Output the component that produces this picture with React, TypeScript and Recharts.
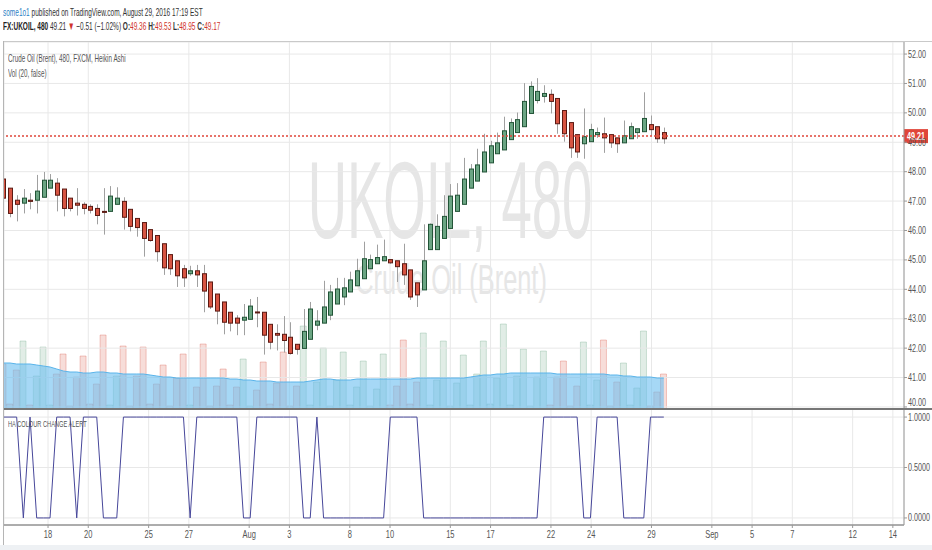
import React from "react";
import {
  ComposedChart,
  Bar,
  Area,
  Line,
  XAxis,
  YAxis,
  CartesianGrid,
  ReferenceLine,
  Cell,
} from "recharts";

// Heikin Ashi candles, 480 minute bars (3 per trading day)
const opens = [
  47.75, 47.44, 47.03, 46.93, 47.03, 47.03, 47.13, 47.44, 47.61, 47.41,
  47.1, 46.93, 46.89, 46.82, 46.75, 46.65, 46.65, 46.89, 46.99, 46.72,
  46.41, 46.27, 46.03, 45.83, 45.55, 45.18, 44.97, 44.7, 44.53, 44.63,
  44.53, 44.25, 43.84, 43.57, 43.22, 43.02, 42.95, 42.98, 43.23, 43.22,
  42.81, 42.5, 42.47, 42.37, 42.13, 41.99, 42.3, 42.78, 42.85, 43.12,
  43.5, 43.74, 43.91, 44.12, 44.36, 44.7, 44.87, 44.97, 45.01, 44.97,
  44.87, 44.66, 44.22, 43.98, 45.35, 45.35, 45.73, 46.07, 46.65, 46.89,
  47.44, 47.68, 47.99, 48.3, 48.61, 48.74, 49.09, 49.33, 49.53, 49.98,
  50.42, 50.56, 50.63, 50.49, 50.08, 49.67, 49.26, 48.95, 49.02, 49.26,
  49.29, 49.26, 49.15, 48.98, 49.12, 49.33, 49.36, 49.6, 49.53, 49.33,
];
const highs = [
  47.82, 47.44, 47.2, 47.41, 47.27, 47.89, 47.99, 47.92, 47.78, 47.41,
  47.1, 47.44, 46.96, 46.89, 46.89, 47.44, 47.51, 47.47, 47.13, 46.72,
  46.41, 46.27, 46.03, 45.83, 45.55, 45.18, 44.97, 44.83, 44.8, 44.83,
  44.83, 44.25, 43.84, 43.57, 43.22, 43.12, 43.5, 43.67, 43.74, 43.22,
  42.81, 42.81, 43.09, 42.88, 42.13, 43.33, 43.57, 43.29, 44.29, 44.15,
  44.39, 44.39, 44.6, 45.04, 45.62, 45.18, 45.52, 45.69, 45.01, 44.97,
  45.55, 44.66, 44.22, 46.21, 46.24, 46.55, 47.2, 47.58, 47.61, 48.47,
  48.26, 48.78, 49.29, 49.05, 49.33, 49.87, 49.81, 50.01, 51.01, 51.07,
  51.18, 50.94, 50.8, 50.49, 50.08, 49.67, 49.26, 50.15, 49.63, 49.5,
  49.84, 49.26, 49.15, 49.74, 49.67, 49.46, 50.7, 49.91, 49.53, 49.5,
];
const lows = [
  47.03, 46.45, 46.31, 46.58, 46.72, 46.58, 47.13, 47.44, 46.65, 46.48,
  46.65, 46.51, 46.55, 46.58, 46.21, 45.86, 46.65, 46.89, 46.03, 45.97,
  45.79, 45.11, 45.62, 44.94, 44.49, 44.49, 44.08, 44.08, 44.46, 44.08,
  43.22, 43.33, 42.81, 42.47, 42.57, 42.44, 42.44, 42.98, 42.71, 41.78,
  41.96, 41.92, 41.85, 41.78, 41.78, 41.99, 42.3, 42.61, 42.85, 42.95,
  43.5, 43.46, 43.91, 44.12, 44.36, 44.7, 44.87, 44.97, 44.87, 44.25,
  44.15, 43.64, 43.4, 43.98, 45.35, 45.35, 45.73, 46.07, 46.65, 46.89,
  47.44, 47.68, 47.99, 48.3, 48.61, 48.74, 49.09, 49.33, 49.53, 49.98,
  50.32, 50.35, 49.98, 49.29, 49.02, 48.47, 48.47, 48.44, 49.02, 49.15,
  48.64, 48.81, 48.64, 48.98, 49.12, 49.12, 49.36, 49.22, 48.98, 48.95,
];
const closes = [
  47.1, 46.58, 46.89, 47.1, 46.99, 47.34, 47.71, 47.71, 47.2, 46.75,
  46.75, 46.86, 46.75, 46.69, 46.51, 46.62, 47.17, 47.1, 46.45, 46.14,
  46.1, 45.73, 45.66, 45.28, 44.73, 44.7, 44.46, 44.39, 44.63, 44.49,
  43.94, 43.4, 43.26, 42.88, 42.85, 42.85, 43.05, 43.43, 43.21, 42.44,
  42.2, 42.44, 42.26, 41.82, 41.96, 42.57, 43.33, 42.92, 43.4, 43.91,
  44.01, 44.05, 44.32, 44.63, 45.04, 45.01, 45.08, 45.11, 44.9, 44.77,
  44.49, 43.74, 43.81, 44.97, 46.21, 46.14, 46.48, 47.17, 47.2, 47.75,
  48.09, 48.23, 48.67, 48.88, 48.98, 49.39, 49.67, 49.77, 50.39, 50.9,
  50.73, 50.66, 50.39, 49.63, 49.29, 48.81, 48.67, 49.19, 49.43, 49.33,
  49.15, 48.98, 48.95, 49.22, 49.53, 49.46, 49.81, 49.43, 49.12, 49.12,
];

const volumes = [
  4500, 500, 3900, 6800, 400, 3300, 6200, 400, 3500, 5500,
  300, 3200, 5300, 500, 2500, 7400, 400, 3300, 6300, 300,
  3300, 6200, 500, 2500, 4400, 300, 3100, 5500, 400, 2200,
  6500, 300, 2300, 4000, 400, 2200, 5000, 300, 1900, 4700,
  500, 2600, 5700, 300, 2300, 8300, 400, 2700, 6100, 300,
  2900, 5700, 400, 2200, 4800, 300, 2000, 5500, 400, 2300,
  6900, 500, 2700, 7600, 400, 2900, 6800, 300, 2600, 5400,
  400, 3500, 6800, 500, 3100, 8500, 400, 3300, 6000, 300,
  3200, 5800, 400, 3200, 4800, 300, 2300, 6700, 400, 2900,
  6900, 300, 2700, 4600, 400, 2100, 7800, 300, 1700, 3500,
];

// Vol (20) moving average
const volumeMa = [
  4600, 4600, 4500, 4500, 4500, 4400, 4300, 4200, 4000, 3800,
  3700, 3700, 3600, 3600, 3700, 3700, 3600, 3600, 3500, 3500,
  3500, 3500, 3400, 3300, 3200, 3200, 3100, 3100, 3100, 3100,
  3100, 3100, 3100, 3100, 3000, 3000, 2900, 2900, 2800, 2800,
  2800, 2700, 2700, 2700, 2700, 2700, 2800, 2900, 3000, 3000,
  2900, 2900, 2900, 3000, 3000, 3000, 3000, 3000, 3000, 3000,
  3000, 3000, 3100, 3100, 3100, 3100, 3100, 3100, 3100, 3100,
  3200, 3300, 3400, 3400, 3500, 3500, 3600, 3600, 3600, 3600,
  3600, 3600, 3600, 3500, 3500, 3500, 3500, 3500, 3500, 3500,
  3500, 3400, 3400, 3300, 3300, 3200, 3200, 3200, 3100, 3100,
];

// HA COLOUR CHANGE ALERT
const haAlert = [
  1, 1, 1, 0, 1, 0, 0, 0, 1, 1,
  1, 0, 1, 1, 1, 0, 0, 0, 1, 1,
  1, 1, 1, 1, 1, 1, 1, 1, 0, 1,
  1, 1, 1, 1, 1, 1, 0, 0, 1, 1,
  1, 1, 1, 1, 1, 0, 0, 1, 0, 0,
  0, 0, 0, 0, 0, 0, 0, 0, 1, 1,
  1, 1, 1, 0, 0, 0, 0, 0, 0, 0,
  0, 0, 0, 0, 0, 0, 0, 0, 0, 0,
  0, 1, 1, 1, 1, 1, 1, 0, 0, 1,
  1, 1, 1, 0, 0, 0, 0, 1, 1, 1,
];

const dateTicks = [
  6.7, 12.73, 21.78, 27.81, 36.85, 42.88, 51.93, 57.96, 67.0, 73.03,
  82.08, 88.11, 97.15, 106.2, 112.23, 118.26, 127.3, 133.33,
];
const dateLabels = [
  "18", "20", "25", "27", "Aug", "3", "8", "10", "15", "17",
  "22", "24", "29", "Sep", "5", "7", "12", "14",
];
const priceTicks = [40, 41, 42, 43, 44, 45, 46, 47, 48, 49, 50, 51, 52];
const alertTicks = [0, 0.5, 1];
const lastPrice = 49.21;

const rows = opens.map((o, i) => ({
  i,
  open: o,
  high: highs[i],
  low: lows[i],
  close: closes[i],
  vol: volumes[i],
  volMa: volumeMa[i],
  ha: haAlert[i],
}));

const UP = "#6ba583";
const DOWN = "#d75442";
const FONT = "'Liberation Sans', Arial, sans-serif";
const X_DOMAIN: [number, number] = [0.1, 135];
const PRICE_DOMAIN: [number, number] = [39.93, 52.41];
const VOL_DOMAIN: [number, number] = [0, 36700];

const Candle = (props: any) => {
  const { x, y, width, height, payload } = props;
  const top = Math.min(y, y + height);
  const h = Math.abs(height);
  const pxPer = h / (payload.high - payload.low || 1);
  const up = payload.close >= payload.open;
  const bodyTop = top + (payload.high - Math.max(payload.open, payload.close)) * pxPer;
  const bodyH = Math.max(Math.abs(payload.open - payload.close) * pxPer, 1);
  const cx = Math.round(x + width / 2) + 0.5;
  return (
    <g>
      <line x1={cx} x2={cx} y1={top} y2={top + h} stroke="#a0a0a0" strokeWidth={1} />
      <rect
        x={cx - 2}
        y={bodyTop}
        width={4}
        height={bodyH}
        fill={up ? UP : DOWN}
        stroke={up ? "#225437" : "#5b1a13"}
        strokeWidth={1}
      />
    </g>
  );
};

const PriceTick = (props: any) => {
  const { x, y, payload } = props;
  // the lowest label sits on the pane edge, so it is nudged up like the original
  const dy = payload.value === priceTicks[0] ? -0.5 : 3.5;
  return (
    <g transform={`translate(${x},${y}) scale(0.72,1)`}>
      <text x={0} y={0} dy={dy} fontSize={10} fill="#555" fontFamily={FONT} textAnchor="start">
        {payload.value.toFixed(2)}
      </text>
    </g>
  );
};

const AlertTick = (props: any) => {
  const { x, y, payload } = props;
  return (
    <g transform={`translate(${x},${y}) scale(0.72,1)`}>
      <text x={0} y={0} dy={3.5} fontSize={10} fill="#555" fontFamily={FONT} textAnchor="start">
        {payload.value.toFixed(4)}
      </text>
    </g>
  );
};

const DateTick = (props: any) => {
  const { x, y, payload } = props;
  const idx = dateTicks.indexOf(payload.value);
  return (
    <g transform={`translate(${x},${y}) scale(0.75,1)`}>
      <text x={0} y={0} dy={9} fontSize={10} fill="#555" fontFamily={FONT} textAnchor="middle">
        {idx >= 0 ? dateLabels[idx] : ""}
      </text>
    </g>
  );
};

const PriceTag = (props: any) => {
  const { viewBox } = props;
  if (!viewBox) return null;
  const x = viewBox.x + viewBox.width;
  const y = viewBox.y;
  return (
    <g>
      <rect x={x} y={y - 7} width={24} height={14} fill="#e0463a" />
      <g transform={`translate(${x + 3},${y}) scale(0.72,1)`}>
        <text x={0} y={0} dy={3.5} fontSize={10} fontWeight="bold" fill="#fff" fontFamily={FONT}>
          {lastPrice.toFixed(2)}
        </text>
      </g>
    </g>
  );
};

const squish = (scale: number): React.CSSProperties => ({
  position: "absolute",
  whiteSpace: "nowrap",
  transform: `scaleX(${scale})`,
  transformOrigin: "0 0",
  fontFamily: FONT,
  lineHeight: "12px",
});

const red = { color: "#d0342c" };
const layer: React.CSSProperties = { position: "absolute", left: 0, top: 42 };

export default function App() {
  return (
    <div
      style={{
        position: "absolute",
        left: 0,
        top: 0,
        width: 932,
        height: 550,
        background: "#fff",
        overflow: "hidden",
        fontFamily: FONT,
      }}
    >
      {/* header */}
      <div style={{ ...squish(0.565), left: 3, top: 5.5, fontSize: 11.5, color: "#333" }}>
        <span style={{ color: "#2a80c4" }}>some1o1</span> published on TradingView.com, August 29, 2016 17:19 EST
      </div>
      <div style={{ ...squish(0.565), left: 3, top: 19.5, fontSize: 11.5, color: "#333" }}>
        <b style={{ color: "#222" }}>FX:UKOIL, 480</b> 49.21 <span style={red}>▼</span> −0.51 (−1.02%){" "}
        <b>O:</b><span style={red}>49.36</span> <b>H:</b><span style={red}>49.53</span>{" "}
        <b>L:</b><span style={red}>48.95</span> <b>C:</b><span style={red}>49.17</span>
      </div>

      {/* watermark */}
      <svg width={932} height={550} style={{ position: "absolute", left: 0, top: 0 }}>
        <g transform="translate(450,238) scale(0.5,1)">
          <text x={0} y={0} textAnchor="middle" fontSize={109} fill="#e6e6e6" fontFamily={FONT}>
            UKOIL, 480
          </text>
        </g>
        <g transform="translate(451,294) scale(0.59,1)">
          <text x={0} y={0} textAnchor="middle" fontSize={43} fill="#e6e6e6" fontFamily={FONT}>
            Crude Oil (Brent)
          </text>
        </g>
      </svg>

      {/* volume bars, behind everything else in the price pane */}
      <div style={layer}>
        <ComposedChart
          width={932}
          height={367}
          data={rows}
          margin={{ top: 0, right: 28, bottom: 0, left: 4 }}
        >
          <XAxis dataKey="i" type="number" domain={X_DOMAIN} allowDataOverflow hide />
          <YAxis type="number" domain={VOL_DOMAIN} allowDataOverflow hide />
          <Bar dataKey="vol" barSize={6} isAnimationActive={false}>
            {rows.map((r) => (
              <Cell
                key={r.i}
                fill={r.close >= r.open ? UP : DOWN}
                fillOpacity={0.2}
                stroke={r.close >= r.open ? UP : DOWN}
                strokeOpacity={0.3}
              />
            ))}
          </Bar>
        </ComposedChart>
      </div>

      {/* price pane: grid, volume MA band, candles */}
      <div style={layer}>
        <ComposedChart
          width={932}
          height={367}
          data={rows}
          margin={{ top: 0, right: 0, bottom: 0, left: 4 }}
        >
          <XAxis dataKey="i" type="number" domain={X_DOMAIN} allowDataOverflow ticks={dateTicks} hide />
          <YAxis
            yAxisId="p"
            orientation="right"
            type="number"
            width={28}
            domain={PRICE_DOMAIN}
            allowDataOverflow
            ticks={priceTicks}
            interval={0}
            tickSize={3}
            tickMargin={1}
            tick={<PriceTick />}
            axisLine={{ stroke: "#9a9a9a" }}
            tickLine={{ stroke: "#9a9a9a" }}
          />
          <YAxis yAxisId="v" type="number" domain={VOL_DOMAIN} allowDataOverflow hide />
          <CartesianGrid yAxisId="p" stroke="#e8e8e8" />
          <Area
            yAxisId="v"
            dataKey="volMa"
            type="linear"
            stroke="#5ab4ea"
            strokeWidth={1}
            fill="#6bbef0"
            fillOpacity={0.6}
            isAnimationActive={false}
          />
          <Bar
            yAxisId="p"
            dataKey={(d: any) => [d.low, d.high]}
            barSize={5}
            shape={<Candle />}
            isAnimationActive={false}
          />
          <ReferenceLine
            yAxisId="p"
            y={lastPrice}
            stroke="#e0463a"
            strokeWidth={1.5}
            strokeDasharray="2 2"
            label={<PriceTag />}
          />
        </ComposedChart>
      </div>
      <div style={{ ...squish(0.6), left: 8, top: 51.5, fontSize: 10.5, color: "#555" }}>
        Crude Oil (Brent), 480, FXCM, Heikin Ashi
      </div>
      <div style={{ ...squish(0.6), left: 8, top: 66.5, fontSize: 10.5, color: "#555" }}>
        Vol (20, false)
      </div>

      {/* alert pane */}
      <div style={{ position: "absolute", left: 0, top: 409 }}>
        <ComposedChart
          width={932}
          height={136}
          data={rows}
          margin={{ top: 0, right: 0, bottom: 0, left: 4 }}
        >
          <XAxis
            dataKey="i"
            type="number"
            domain={X_DOMAIN}
            allowDataOverflow
            ticks={dateTicks}
            interval={0}
            height={20}
            tickSize={3}
            tickMargin={1}
            tick={<DateTick />}
            axisLine={{ stroke: "#666" }}
            tickLine={{ stroke: "#999" }}
          />
          <YAxis
            orientation="right"
            type="number"
            width={28}
            domain={[-0.07, 1.08]}
            allowDataOverflow
            ticks={alertTicks}
            interval={0}
            tickSize={3}
            tickMargin={1}
            tick={<AlertTick />}
            axisLine={{ stroke: "#9a9a9a" }}
            tickLine={{ stroke: "#9a9a9a" }}
          />
          <CartesianGrid stroke="#e8e8e8" />
          <Line
            dataKey="ha"
            type="linear"
            stroke="#47479a"
            strokeWidth={1}
            dot={false}
            isAnimationActive={false}
          />
        </ComposedChart>
      </div>
      <div style={{ ...squish(0.63), left: 8, top: 418, fontSize: 9, color: "#555" }}>
        HA COLOUR CHANGE ALERT
      </div>

      {/* frame */}
      <div style={{ position: "absolute", left: 4, top: 41, width: 928, height: 0, borderTop: "1px solid #c9c9c9" }} />
      <div style={{ position: "absolute", left: 3, top: 41, width: 0, height: 504, borderLeft: "1px solid #b5b5b5" }} />
      <div style={{ position: "absolute", left: 4, top: 408, width: 928, height: 0, borderTop: "2px solid #777" }} />
      <div style={{ position: "absolute", left: 0, top: 545, width: 932, height: 5, background: "#eef1f4" }} />
    </div>
  );
}
